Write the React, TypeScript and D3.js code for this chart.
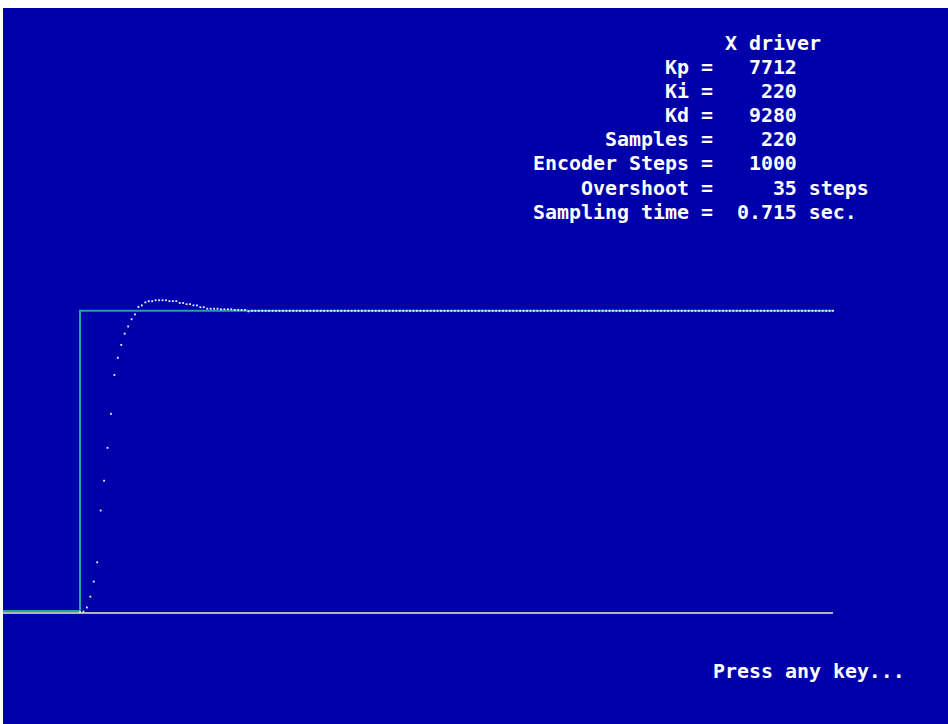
import React from "react";
import * as d3 from "d3";

// ---- Data ----
const TITLE = "X driver";
const PARAM_LABELS = ["Kp", "Ki", "Kd", "Samples", "Encoder Steps", "Overshoot", "Sampling time"];
const PARAM_VALUES = ["7712", "220", "9280", "220", "1000", "35", "0.715"];
const PARAM_UNITS = ["", "", "", "", "", "steps", "sec."];
const FOOTER = "Press any key...";

const SETPOINT = 1000;
const STEP_SAMPLE = 0;
// Encoder position (steps) for each sample
const RESPONSE = [
  0, 1, 15, 51, 101, 165, 337, 436, 545, 658,
  787, 844, 887, 924, 948, 972, 988, 1013, 1018, 1028,
  1032, 1032, 1035, 1035, 1035, 1035, 1032, 1032, 1032, 1026,
  1026, 1022, 1022, 1018, 1018, 1012, 1012, 1007, 1007, 1007,
  1007, 1005, 1005, 1005, 1005, 1003, 1003, 1003, 1003, 998,
  1000, 1000, 1000, 1000, 1000, 1000, 1000, 1000, 1000, 1000,
  1000, 1000, 1000, 1000, 1000, 1000, 1000, 1000, 1000, 1000,
  1000, 1000, 1000, 1000, 1000, 1000, 1000, 1000, 1000, 1000,
  1000, 1000, 1000, 1000, 1000, 1000, 1000, 1000, 1000, 1000,
  1000, 1000, 1000, 1000, 1000, 1000, 1000, 1000, 1000, 1000,
  1000, 1000, 1000, 1000, 1000, 1000, 1000, 1000, 1000, 1000,
  1000, 1000, 1000, 1000, 1000, 1000, 1000, 1000, 1000, 1000,
  1000, 1000, 1000, 1000, 1000, 1000, 1000, 1000, 1000, 1000,
  1000, 1000, 1000, 1000, 1000, 1000, 1000, 1000, 1000, 1000,
  1000, 1000, 1000, 1000, 1000, 1000, 1000, 1000, 1000, 1000,
  1000, 1000, 1000, 1000, 1000, 1000, 1000, 1000, 1000, 1000,
  1000, 1000, 1000, 1000, 1000, 1000, 1000, 1000, 1000, 1000,
  1000, 1000, 1000, 1000, 1000, 1000, 1000, 1000, 1000, 1000,
  1000, 1000, 1000, 1000, 1000, 1000, 1000, 1000, 1000, 1000,
  1000, 1000, 1000, 1000, 1000, 1000, 1000, 1000, 1000, 1000,
  1000, 1000, 1000, 1000, 1000, 1000, 1000, 1000, 1000, 1000,
  1000, 1000, 1000, 1000, 1000, 1000, 1000, 1000, 1000, 1000,
];

// ---- Layout ----
const W = 948;
const H = 724;
const BG_X = 3;
const BG_Y = 8;
const FS = 19.93; // monospace advance ~12px
const CW = FS * 0.602;
const X0 = 533; // text block column 0
const FONT = "'DejaVu Sans Mono', 'Liberation Mono', monospace";
const NB = "\u00A0";

const pad = (s: string, n: number) => s.padStart(n, " ").replace(/ /g, NB);

export default function App() {
  const n = RESPONSE.length;
  const x = d3.scaleLinear().domain([0, n - 1]).range([80, 833]);
  const y = d3.scaleLinear().domain([0, SETPOINT]).range([612, 310.8]);

  const stepPath = d3.line<[number, number]>()
    .x((d) => d[0])
    .y((d) => d[1])([
      [BG_X, y(0) - 1],
      [x(STEP_SAMPLE), y(0) - 1],
      [x(STEP_SAMPLE), y(SETPOINT)],
      [x(n - 1), y(SETPOINT)],
    ]);

  const lines = PARAM_LABELS.map((lab, i) => {
    const left = pad(lab, 13) + NB + "=" + NB;
    const val = pad(PARAM_VALUES[i], 6);
    const unit = PARAM_UNITS[i] ? NB + PARAM_UNITS[i] : "";
    return left + val + unit;
  });

  return (
    <svg
      width={W}
      height={H}
      style={{ position: "absolute", left: 0, top: 0, display: "block" }}
    >
      <rect x={BG_X} y={BG_Y} width={W - BG_X} height={H - BG_Y} fill="#0000AA" />

      {/* baseline */}
      <line x1={BG_X} x2={x(n - 1)} y1={y(0) + 1} y2={y(0) + 1} stroke="#F2F2A6" strokeWidth={1.6} />
      {/* setpoint step */}
      <path d={stepPath || ""} fill="none" stroke="#1FA3A3" strokeWidth={2} />

      {/* response samples */}
      {RESPONSE.map((v, i) => (
        <rect
          key={i}
          x={x(i) - 0.9}
          y={y(v) - 0.9}
          width={1.8}
          height={1.8}
          fill="#F4F4FF"
        />
      ))}

      <g fontFamily={FONT} fontSize={FS} fontWeight="bold" fill="#FFFFFF">
        <text x={X0 + 16 * CW} y={50}>{TITLE}</text>
        {lines.map((s, i) => (
          <text key={i} x={X0} y={74 + i * 24.1}>{s}</text>
        ))}
        <text x={X0 + 15 * CW} y={678}>{FOOTER}</text>
      </g>
    </svg>
  );
}
